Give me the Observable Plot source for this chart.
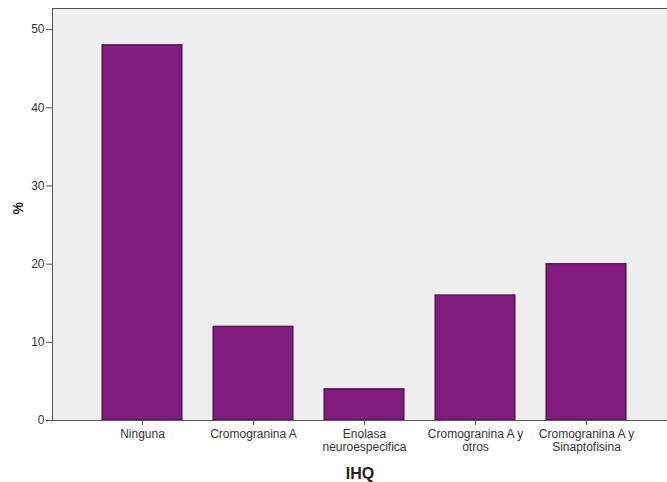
<!DOCTYPE html>
<html><head><meta charset="utf-8">
<script src="https://cdn.jsdelivr.net/npm/d3@7"></script>
<script src="https://cdn.jsdelivr.net/npm/@observablehq/plot@0.6"></script>
<style>body{margin:0;background:#fff;font-family:"Liberation Sans",Arial,sans-serif;}</style>
</head><body><div id="chart"></div>
<script>
const categories = ["Ninguna", "Cromogranina A", "Enolasa\nneuroespecifica", "Cromogranina A y\notros", "Cromogranina A y\nSinaptofisina"];
const values = [48, 12, 4, 16, 20];
const yTicks = [0, 10, 20, 30, 40, 50];
const data = categories.map((c, i) => ({cat: c, pct: values[i]}));

const chart = Plot.plot({
  width: 667, height: 482,
  marginLeft: 52, marginRight: 0, marginTop: 8, marginBottom: 62,
  style: {fontFamily: "'Liberation Sans', Arial, sans-serif", fontSize: "12px", color: "#222", background: "#fff"},
  x: {domain: categories, paddingInner: 0.283, paddingOuter: 0.4, align: 0.55, label: null},
  y: {domain: [0, 52.7], label: null},
  marks: [
    Plot.frame({fill: "#efefef", stroke: null}),
    Plot.barY(data, {x: "cat", y: "pct", fill: "#801c7e", stroke: "#3a0a38", strokeWidth: 1}),
    Plot.ruleY([52.7], {stroke: "#555", strokeWidth: 1}),
    Plot.ruleY([0], {stroke: "#555", strokeWidth: 1}),
    Plot.axisY({ticks: yTicks, tickSize: 6, tickPadding: 2, label: null, stroke: "#555", fontSize: 12, fill: "#333"}),
    Plot.axisX({tickSize: 5, tickPadding: 4, label: null, fontSize: 12, lineHeight: 1.05, fill: "#333", stroke: "#555"}),
    Plot.text(["%"], {frameAnchor: "left", dx: -34, rotate: -90, fontWeight: "bold", fontSize: 14, fill: "#222"}),
    Plot.text(["IHQ"], {frameAnchor: "bottom", dy: 58, fontWeight: "bold", fontSize: 16, fill: "#222"})
  ]
});
document.getElementById("chart").append(chart);
const svg = d3.select(chart);
svg.append("line").attr("x1", 52.5).attr("x2", 52.5).attr("y1", 8).attr("y2", 420).attr("stroke", "#555");
</script>
</body></html>
